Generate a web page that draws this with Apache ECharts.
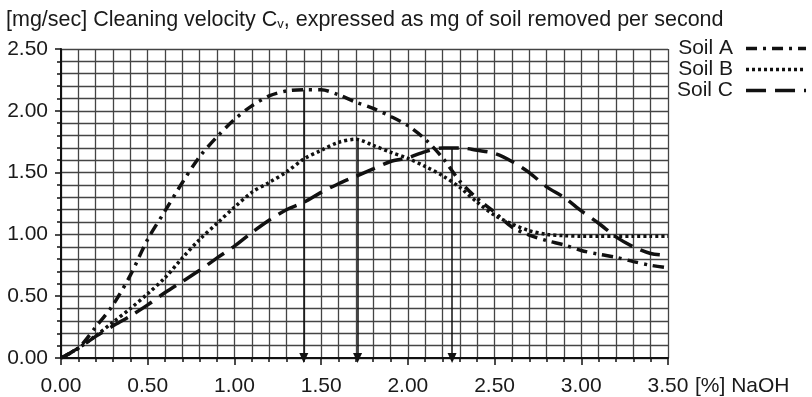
<!DOCTYPE html>
<html lang="en">
<head>
    <meta charset="UTF-8">
    <title>Cleaning velocity</title>
    <script type="text/javascript" src="https://cdn.jsdelivr.net/npm/echarts@6/dist/echarts.min.js"></script>
    <style>
        html, body { margin: 0; padding: 0; background: #fff; }
    </style>
</head>
<body>
    <div id="main" style="width: 812px; height: 397px"></div>
    <script>
        // NaOH concentration [%]
        var naoh = [0, 0.1, 0.2, 0.3, 0.4, 0.5, 0.6, 0.7, 0.8, 0.9, 1.0, 1.1, 1.2, 1.3, 1.4, 1.5, 1.6, 1.7,
            1.8, 1.9, 2.0, 2.1, 2.2, 2.3, 2.4, 2.5, 2.6, 2.7, 2.8, 2.9, 3.0, 3.1, 3.2, 3.3, 3.4, 3.5];

        // cleaning velocity [mg/sec]
        var soilA = [0, 0.08, 0.25, 0.43, 0.67, 0.96, 1.19, 1.42, 1.63, 1.79, 1.93, 2.04, 2.12, 2.16, 2.17, 2.17, 2.13, 2.07,
            2.02, 1.955, 1.88, 1.77, 1.62, 1.43, 1.29, 1.18, 1.06, 0.995, 0.95, 0.915, 0.87, 0.84, 0.815, 0.78, 0.75, 0.73];
        var soilB = [0, 0.08, 0.18, 0.29, 0.40, 0.52, 0.65, 0.81, 0.96, 1.09, 1.22, 1.34, 1.42, 1.505, 1.61, 1.68, 1.745, 1.77,
            1.72, 1.665, 1.615, 1.55, 1.475, 1.38, 1.26, 1.155, 1.085, 1.03, 1.0, 0.99, 0.985, 0.985, 0.985, 0.985, 0.985, 0.985];
        var soilC = [0, 0.08, 0.175, 0.26, 0.34, 0.43, 0.53, 0.62, 0.71, 0.81, 0.905, 1.015, 1.115, 1.2, 1.26, 1.34, 1.41, 1.47,
            1.53, 1.59, 1.62, 1.67, 1.70, 1.70, 1.68, 1.655, 1.59, 1.50, 1.385, 1.30, 1.19, 1.09, 0.98, 0.90, 0.845, 0.83];

        // optimum concentration (arrow) for each soil: [x, peak]
        var optA = [1.40, 2.17];
        var optB = [1.71, 1.77];
        var optC = [2.255, 1.70];

        var seriesNames = ['Soil A', 'Soil B', 'Soil C'];

        function pairs(ys) {
            return naoh.map(function (x, i) { return [x, ys[i]]; });
        }

        function arrow(opt) {
            return {
                silent: true,
                animation: false,
                symbol: ['none', 'triangle'],
                symbolSize: [9, 10],
                label: { show: false },
                lineStyle: { color: '#111', width: 1.5, type: 'solid' },
                data: [[{ coord: [opt[0], opt[1]] }, { coord: [opt[0], 0] }]]
            };
        }

        var gridColor = '#444';
        var font = 'Liberation Sans, Arial, Helvetica, sans-serif';
        var fs = 21;

        var myChart = echarts.init(document.getElementById('main'));

        myChart.setOption({
            animation: false,
            backgroundColor: '#fff',
            title: {
                text: '[mg/sec] Cleaning velocity C{sub|v}, expressed as mg of soil removed per second',
                left: 1,
                top: 4,
                textStyle: {
                    fontFamily: font,
                    fontSize: 21.5,
                    fontWeight: 'normal',
                    color: '#1a1a1a',
                    rich: {
                        sub: { fontFamily: font, fontSize: 13, color: '#1a1a1a', verticalAlign: 'bottom', padding: [9, 0, 0, 0] }
                    }
                }
            },
            legend: {
                orient: 'vertical',
                left: 672,
                top: 33,
                align: 'right',
                itemWidth: 60,
                itemHeight: 14,
                itemGap: 0,
                itemStyle: { opacity: 0 },
                lineStyle: { width: 3.5 },
                textStyle: { fontFamily: font, fontSize: fs, color: '#1a1a1a', padding: [0, 8, 0, 0] },
                data: seriesNames
            },
            grid: {
                left: 61,
                right: 144,
                top: 49,
                bottom: 35
            },
            xAxis: {
                type: 'value',
                min: 0,
                max: 3.5,
                interval: 0.5,
                name: '[%] NaOH',
                nameLocation: 'end',
                nameGap: 27,
                nameTextStyle: {
                    fontFamily: font,
                    fontSize: fs,
                    color: '#1a1a1a',
                    verticalAlign: 'top',
                    padding: [18, 0, 0, 0]
                },
                axisLine: { lineStyle: { color: '#111', width: 2 } },
                axisTick: { show: true, length: 7, lineStyle: { color: '#111', width: 1.5 } },
                minorTick: { show: true, splitNumber: 5, length: 4, lineStyle: { color: '#111', width: 1.5 } },
                axisLabel: {
                    margin: 18,
                    fontFamily: font,
                    fontSize: fs,
                    color: '#1a1a1a',
                    formatter: function (v) { return v.toFixed(2); }
                },
                splitLine: { show: true, lineStyle: { color: gridColor, width: 1.3 } },
                minorSplitLine: { show: true, lineStyle: { color: gridColor, width: 1.3 } }
            },
            yAxis: {
                type: 'value',
                min: 0,
                max: 2.5,
                interval: 0.5,
                axisLine: { show: true, lineStyle: { color: '#111', width: 2 } },
                axisTick: { show: true, length: 6, lineStyle: { color: '#111', width: 1.5 } },
                minorTick: { show: true, splitNumber: 5, length: 4, lineStyle: { color: '#111', width: 1.5 } },
                axisLabel: {
                    margin: 13,
                    fontFamily: font,
                    fontSize: fs,
                    color: '#1a1a1a',
                    formatter: function (v) { return v.toFixed(2); }
                },
                splitLine: { show: true, lineStyle: { color: gridColor, width: 1.3 } },
                minorSplitLine: { show: true, lineStyle: { color: gridColor, width: 1.3 } }
            },
            series: [{
                name: seriesNames[0],
                type: 'line',
                data: pairs(soilA),
                smooth: 0.3,
                symbol: 'none',
                color: '#111',
                lineStyle: { color: '#111', width: 3.5, type: [11, 6, 3, 6] },
                markLine: arrow(optA),
                z: 5
            }, {
                name: seriesNames[1],
                type: 'line',
                data: pairs(soilB),
                smooth: 0.3,
                symbol: 'none',
                color: '#111',
                lineStyle: { color: '#111', width: 3.5, type: [3, 3] },
                markLine: arrow(optB),
                z: 5
            }, {
                name: seriesNames[2],
                type: 'line',
                data: pairs(soilC),
                smooth: 0.3,
                symbol: 'none',
                color: '#111',
                lineStyle: { color: '#111', width: 3.5, type: [20, 9] },
                markLine: arrow(optC),
                z: 5
            }]
        });
    </script>
</body>
</html>
